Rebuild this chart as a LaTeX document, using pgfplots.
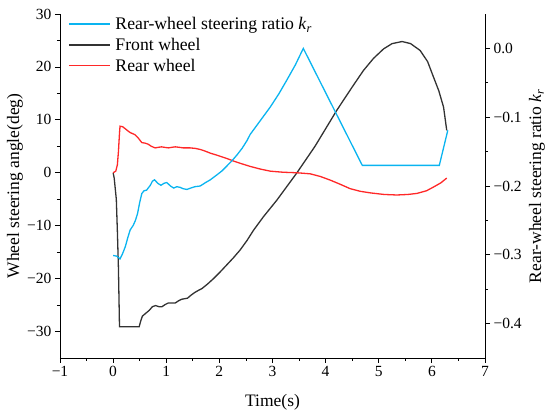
\documentclass[border=0pt]{standalone}
\usepackage{fontspec}
\setmainfont{Liberation Serif}
\usepackage{pgfplots}
\pgfplotsset{compat=1.18}
\definecolor{cblue}{RGB}{10,180,240}
\definecolor{cred}{RGB}{255,40,40}
\definecolor{cblack}{RGB}{50,50,50}
\begin{document}
\begin{tikzpicture}
\pgfplotsset{
  common/.style={scale only axis, width=425pt, height=344pt, xmin=-1, xmax=7,
    tick align=outside, major tick length=5pt, minor tick length=3pt,
    every tick/.style={black, line width=0.8pt},
    axis line style={line width=0.9pt},
    tick label style={font=\fontsize{15.5}{16}\selectfont}},
  lleg/.style={legend image code/.code={\draw[##1] (0pt,0pt) -- (41pt,0pt);}}
}
\begin{axis}[common, axis x line*=bottom, axis y line*=left,
  ymin=-35, ymax=30,
  xtick={-1,0,...,7}, xticklabels={−1,0,1,2,3,4,5,6,7},
  ytick={-30,-20,...,30}, yticklabels={−30,−20,−10,0,10,20,30},
  minor x tick num=1, minor y tick num=1,
  xlabel={Time(s)}, ylabel={Wheel steering angle(deg)},
  every axis x label/.style={at={(rel axis cs:0.5,0)}, yshift=-44pt, anchor=center, font=\fontsize{17.5}{18}\selectfont},
  every axis y label/.style={at={(rel axis cs:0,0.5)}, xshift=-45pt, rotate=90, anchor=center, font=\fontsize{17.5}{18}\selectfont},
  legend style={at={(rel axis cs:0,1)}, anchor=north west, xshift=8pt, yshift=-1pt,
    draw=none, fill=none, inner sep=0pt,
    font=\fontsize{17.7}{18}\selectfont, row sep=3pt,
    /tikz/every odd column/.append style={column sep=3pt}},
  legend cell align=left]
\coordinate (bl) at (rel axis cs:0,0);
\coordinate (tr) at (rel axis cs:1,1);
\addlegendimage{cblue, line width=1.3pt, lleg}
\addlegendentry{Rear-wheel steering ratio \textit{k}\textsubscript{\textit{r}}}
\addplot[cblack, line width=1.3pt, lleg] coordinates {
(0,0) (0.02,-1) (0.06,-5) (0.08,-11) (0.10,-18) (0.12,-29.1)
(0.49,-29.1) (0.52,-28) (0.55,-27.1) (0.62,-26.5) (0.68,-26.0) (0.74,-25.3)
(0.80,-25.1) (0.86,-25.3) (0.92,-25.3) (0.98,-24.9) (1.04,-24.6) (1.17,-24.6)
(1.23,-24.2) (1.29,-23.9) (1.40,-23.7) (1.47,-23.1) (1.54,-22.6) (1.61,-22.2)
(1.67,-21.9) (1.78,-21.0) (1.89,-20.0) (2.0,-18.9) (2.14,-17.4) (2.27,-16.0)
(2.39,-14.6) (2.52,-12.8) (2.64,-10.9) (2.83,-8.3) (3.08,-5.2) (3.46,0)
(3.8,5) (4.21,11.8) (4.5,16.2) (4.71,19.3) (4.9,21.6) (5.09,23.4) (5.25,24.4)
(5.44,24.8) (5.6,24.4) (5.78,23.1) (5.92,21.0) (6.03,18.1) (6.13,15.5)
(6.22,12.4) (6.28,8.0)
};
\addlegendentry{Front wheel}
\addplot[cred, line width=1.3pt, lleg] coordinates {
(0,0) (0.05,0.3) (0.08,1.5) (0.10,4) (0.12,7.5) (0.13,8.8) (0.18,8.7)
(0.23,8.3) (0.28,7.9) (0.32,7.6) (0.41,7.2) (0.47,6.6) (0.54,5.7) (0.60,5.6)
(0.66,5.4) (0.72,5.0) (0.79,4.7) (0.85,4.8) (0.91,4.9) (0.97,4.8) (1.04,4.7)
(1.10,4.8) (1.17,4.9) (1.25,4.8) (1.32,4.7) (1.45,4.7) (1.55,4.6) (1.64,4.4)
(1.73,4.1) (1.83,3.7) (1.93,3.4) (2.02,3.1) (2.14,2.7) (2.27,2.2) (2.42,1.7)
(2.58,1.2) (2.77,0.7) (2.96,0.3) (3.2,0.1) (3.46,0) (3.71,-0.2) (3.9,-0.7)
(4.09,-1.4) (4.28,-2.2) (4.46,-3.0) (4.65,-3.5) (4.84,-3.8) (5.1,-4.1)
(5.34,-4.2) (5.55,-4.1) (5.72,-3.9) (5.9,-3.4) (6.03,-2.7) (6.17,-1.9)
(6.28,-1.0)
};
\addlegendentry{Rear wheel}
\end{axis}
\begin{axis}[common, axis y line*=right, axis x line=none,
  ymin=-0.45, ymax=0.05,
  ytick={-0.4,-0.3,-0.2,-0.1,0}, yticklabels={−0.4,−0.3,−0.2,−0.1,0.0},
  minor y tick num=1,
  every axis y label/.style={at={(rel axis cs:1,0.5)}, xshift=52pt, rotate=90, anchor=center, font=\fontsize{17.5}{18}\selectfont},
  ylabel={Rear-wheel steering ratio \textit{k}\textsubscript{\textit{r}}}]
\addplot[cblue, line width=1.3pt] coordinates {
(0,-0.301) (0.07,-0.302) (0.13,-0.306) (0.18,-0.298) (0.23,-0.288)
(0.28,-0.274) (0.32,-0.264) (0.38,-0.257) (0.42,-0.250) (0.46,-0.240)
(0.50,-0.224) (0.54,-0.211) (0.58,-0.207) (0.63,-0.206) (0.70,-0.199)
(0.74,-0.193) (0.78,-0.191) (0.84,-0.196) (0.90,-0.199) (0.96,-0.196)
(1.01,-0.195) (1.08,-0.200) (1.14,-0.203) (1.20,-0.201) (1.26,-0.202)
(1.32,-0.204) (1.39,-0.205) (1.46,-0.203) (1.54,-0.201) (1.64,-0.200)
(1.74,-0.195) (1.83,-0.191) (1.95,-0.184) (2.05,-0.178) (2.14,-0.171)
(2.24,-0.163) (2.33,-0.155) (2.43,-0.145) (2.52,-0.134) (2.58,-0.125)
(2.77,-0.105) (2.96,-0.085) (3.12,-0.066) (3.27,-0.046) (3.43,-0.024)
(3.58,0.0) (4.69,-0.170) (6.14,-0.170) (6.30,-0.119)
};
\end{axis}
\pgfresetboundingbox
\path ([shift={(-60pt,-58pt)}]bl) rectangle ([shift={(65pt,14pt)}]tr);
\end{tikzpicture}
\end{document}
